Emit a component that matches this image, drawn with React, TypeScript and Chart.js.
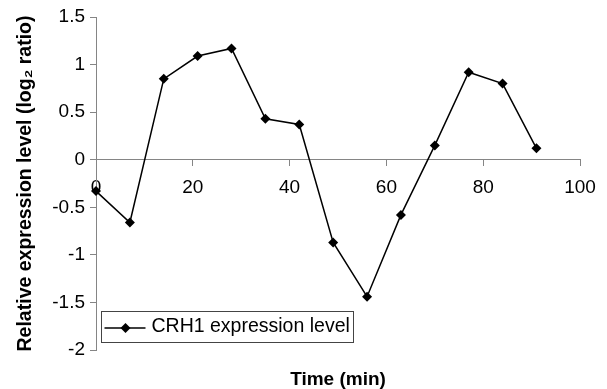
import React, { useEffect, useRef } from "react";
import { Chart, registerables } from "chart.js";

Chart.register(...registerables);

// ---- data ----
const timesMin = [0, 7, 14, 21, 28, 35, 42, 49, 56, 63, 70, 77, 84, 91];
const crh1Values = [-0.33, -0.66, 0.85, 1.09, 1.17, 0.43, 0.37, -0.87, -1.44, -0.58, 0.15, 0.92, 0.8, 0.12];
const seriesLabel = "CRH1 expression level";
const xTitle = "Time (min)";
const yTitle = "Relative expression level (log\u2082 ratio)";
const xRange = [0, 100];
const xStep = 20;
const yRange = [-2, 1.5];
const yStep = 0.5;

const FONT = "'Liberation Sans', Arial, sans-serif";
const AXIS_GRAY = "#858585";

const insetLegend = {
  id: "insetLegend",
  afterDraw(chart: any) {
    const { ctx, chartArea } = chart;
    const ds = chart.data.datasets[0];
    const bx = chartArea.left + 5.5;
    const by = chartArea.bottom - 38.5;
    const bw = 252;
    const bh = 31;
    ctx.save();
    ctx.fillStyle = "#ffffff";
    ctx.fillRect(bx, by, bw, bh);
    ctx.strokeStyle = "#444444";
    ctx.lineWidth = 1;
    ctx.strokeRect(bx, by, bw, bh);
    const cy = by + bh / 2 + 1;
    ctx.strokeStyle = "#000";
    ctx.lineWidth = 1.5;
    ctx.beginPath();
    ctx.moveTo(bx + 3, cy);
    ctx.lineTo(bx + 44, cy);
    ctx.stroke();
    const px = bx + 24;
    const r = 5;
    ctx.fillStyle = "#000";
    ctx.beginPath();
    ctx.moveTo(px, cy - r);
    ctx.lineTo(px + r, cy);
    ctx.lineTo(px, cy + r);
    ctx.lineTo(px - r, cy);
    ctx.closePath();
    ctx.fill();
    ctx.font = `19.5px ${FONT}`;
    ctx.textBaseline = "middle";
    ctx.textAlign = "left";
    ctx.fillText(ds.label, bx + 50, cy - 1);
    ctx.restore();
  },
};

export default function App() {
  const canvasRef = useRef<HTMLCanvasElement>(null);

  useEffect(() => {
    const canvas = canvasRef.current;
    if (!canvas) return;
    const chart = new Chart(canvas, {
      type: "line",
      data: {
        datasets: [
          {
            label: seriesLabel,
            data: timesMin.map((t, i) => ({ x: t, y: crh1Values[i] })),
            borderColor: "#000",
            backgroundColor: "#000",
            borderWidth: 1.5,
            pointStyle: "rectRot",
            pointRadius: 5,
            pointBackgroundColor: "#000",
            pointBorderColor: "#000",
            pointBorderWidth: 0,
            tension: 0,
            clip: false as any,
          },
        ],
      },
      options: {
        responsive: false,
        animation: false,
        layout: { padding: { top: 17, right: 27, left: 0, bottom: 0 } },
        plugins: {
          legend: { display: false },
          tooltip: { enabled: false },
          title: {
            display: true,
            text: xTitle,
            position: "bottom",
            fullSize: false,
            color: "#000",
            font: { family: FONT, size: 19, weight: "bold", lineHeight: 1 },
            padding: { top: 20, bottom: 0 },
          },
        },
        scales: {
          x: {
            type: "linear",
            min: xRange[0],
            max: xRange[1],
            position: { y: 0 } as any,
            ticks: {
              stepSize: xStep,
              color: "#000",
              padding: 11,
              font: { family: FONT, size: 19 },
              maxRotation: 0,
              callback: (v: any) => String(Number(v)),
            },
            grid: { drawOnChartArea: false, drawTicks: true, tickLength: 6, color: AXIS_GRAY },
            border: { color: AXIS_GRAY, width: 1 },
          },
          y: {
            type: "linear",
            min: yRange[0],
            max: yRange[1],
            ticks: {
              stepSize: yStep,
              color: "#000",
              padding: 5,
              font: { family: FONT, size: 19 },
              callback: (v: any) => String(Number(v)),
            },
            grid: { drawOnChartArea: false, drawTicks: true, tickLength: 6, color: AXIS_GRAY },
            border: { color: AXIS_GRAY, width: 1 },
            title: {
              display: true,
              text: yTitle,
              color: "#000",
              font: { family: FONT, size: 19.5, weight: "bold" },
              padding: { top: 14, bottom: 0 },
            },
            afterFit(scale: any) {
              scale.width = 96;
            },
          },
        },
      },
      plugins: [insetLegend],
    });
    return () => chart.destroy();
  }, []);

  return (
    <div style={{ position: "fixed", left: 0, top: 0, width: 607, height: 389, background: "#fff" }}>
      <canvas ref={canvasRef} width={607} height={389} style={{ display: "block" }} />
    </div>
  );
}
